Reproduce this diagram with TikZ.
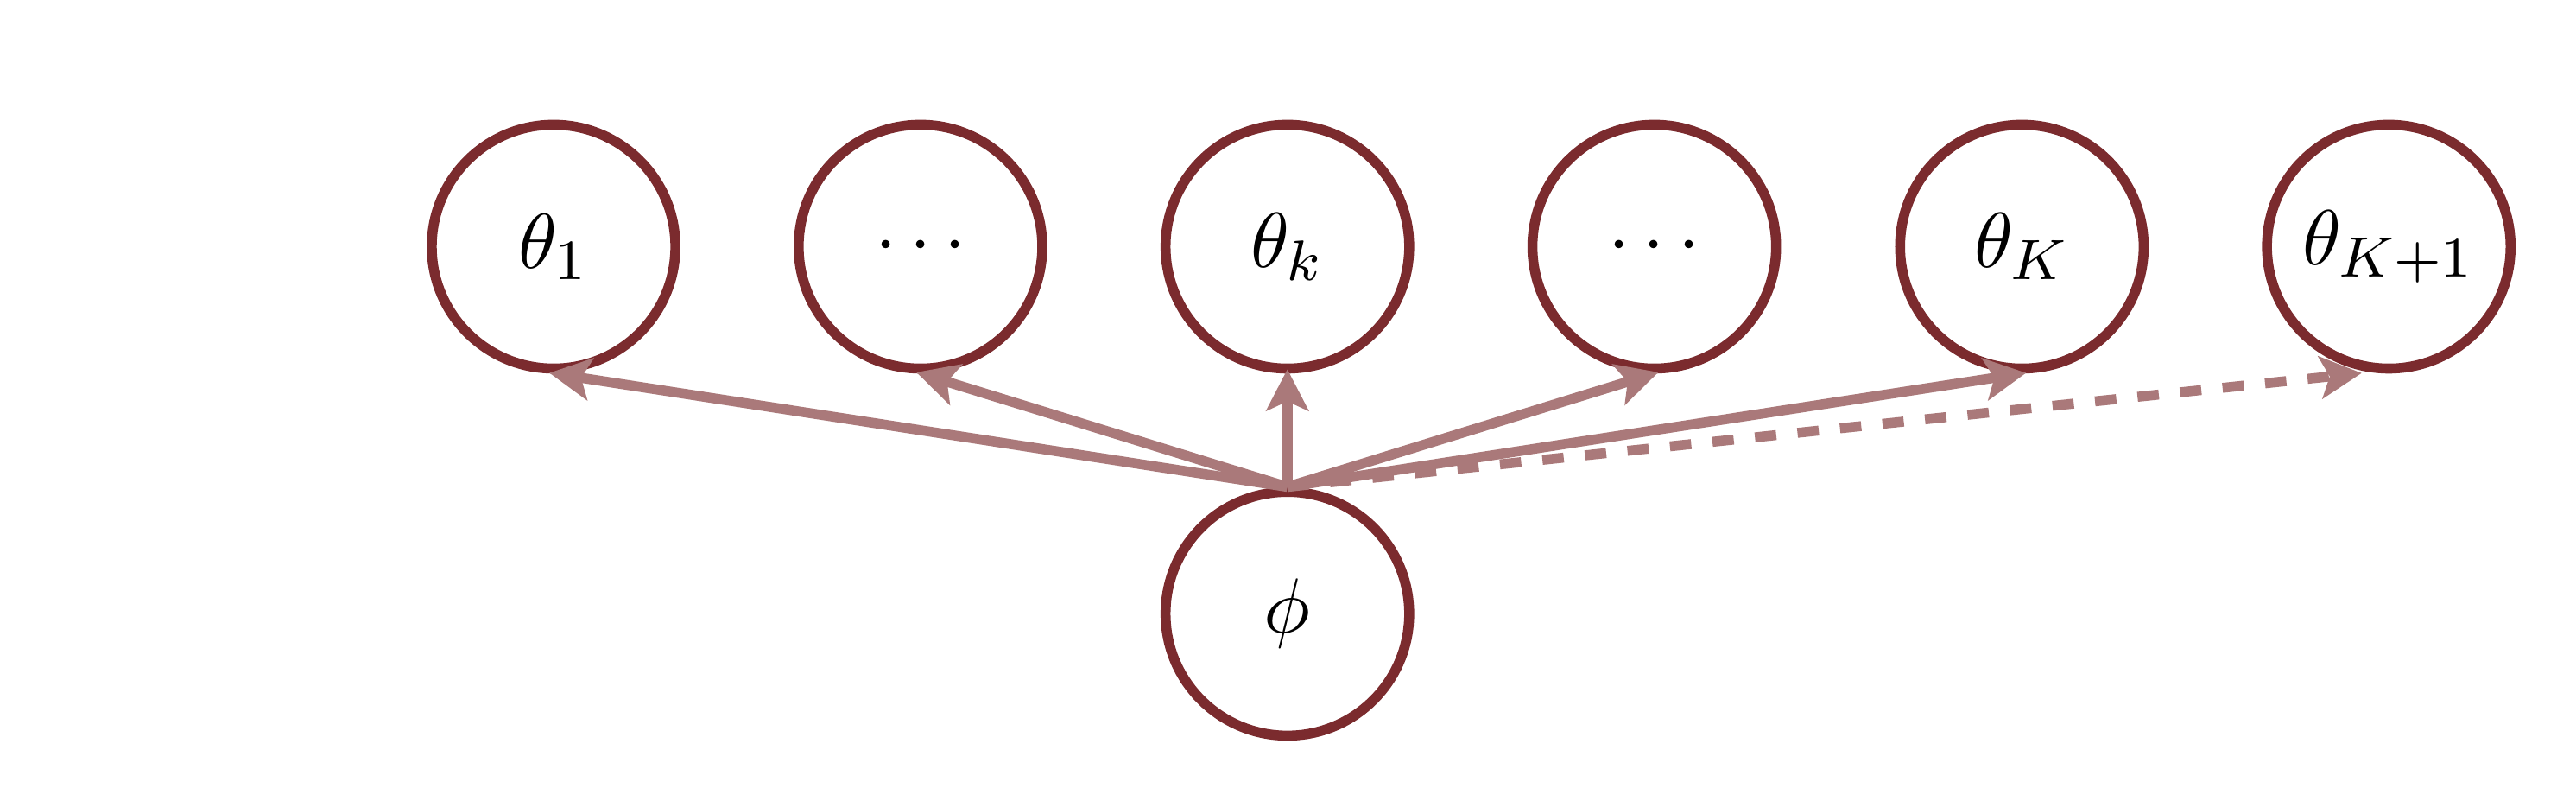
\documentclass[tikz,border=0pt]{standalone}
\usetikzlibrary{arrows.meta}
\definecolor{nodecol}{RGB}{123,43,46}
\definecolor{arrcol}{RGB}{170,121,122}
\begin{document}
\begin{tikzpicture}[x=1pt,y=1pt,
  var/.style={circle,draw=nodecol,line width=1.4pt,minimum size=34.2pt,inner sep=0pt,
    font=\fontsize{10.95}{13.6}\selectfont},
  conn/.style={draw=arrcol,line width=1.4pt,
    -{Stealth[length=5.8pt,width=5.9pt,inset=1.3pt]},shorten >=-0.6pt}]
\useasboundingbox (0,0) rectangle (361.58,-112.36);
\node[var] (t1) at (77.7,-34.6) {$\theta_1$};
\node[var] (d1) at (129.2,-34.6) {$\cdots$};
\node[var] (tk) at (180.7,-34.6) {$\theta_k$};
\node[var] (d2) at (232.2,-34.6) {$\cdots$};
\node[var] (tK) at (283.8,-34.6) {$\theta_K$};
\node[var] (tK1) at (335.3,-34.6) {$\theta_{K+1}$};
\node[var] (phi) at (180.7,-86.1) {$\phi$};
\coordinate (eK1) at ([xshift=-4.4pt]tK1.south);
\draw[conn] (phi.north) -- (t1.south);
\draw[conn] (phi.north) -- (d1.south);
\draw[conn] (phi.north) -- (tk.south);
\draw[conn] (phi.north) -- (d2.south);
\draw[conn] (phi.north) -- (tK.south);
\draw[conn,dashed] (phi.north) -- (eK1);
\end{tikzpicture}
\end{document}
